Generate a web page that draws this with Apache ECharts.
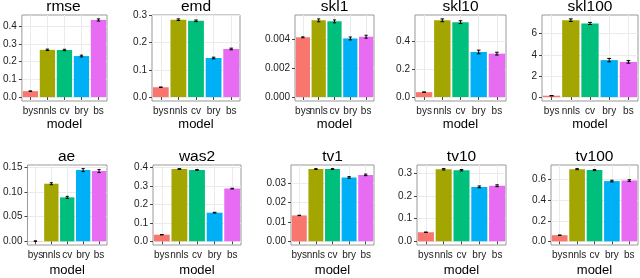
<!DOCTYPE html>
<html>
<head>
<meta charset="utf-8">
<script src="https://cdn.jsdelivr.net/npm/echarts@6/dist/echarts.min.js"></script>
<style>html,body{margin:0;padding:0;background:#fff}#c{width:640px;height:278px}</style>
</head>
<body>
<div id="c"></div>
<script>
// ---- data ----
const models = ['bys', 'nnls', 'cv', 'bry', 'bs'];
const colors = ['#F8766D', '#A3A500', '#00BF7D', '#00B0F6', '#E76BF3'];
const metrics = ['rmse', 'emd', 'skl1', 'skl10', 'skl100', 'ae', 'was2', 'tv1', 'tv10', 'tv100'];

const rmse = [0.0335, 0.266, 0.265, 0.231, 0.434];
const rmseErr = [0.001, 0.004, 0.004, 0.005, 0.006];
const emd = [0.036, 0.283, 0.279, 0.143, 0.176];
const emdErr = [0.001, 0.003, 0.003, 0.003, 0.003];
const skl1 = [0.00413, 0.00530, 0.00523, 0.00405, 0.00417];
const skl1Err = [0.00003, 0.0001, 0.0001, 0.0001, 0.0001];
const skl10 = [0.035, 0.546, 0.533, 0.321, 0.309];
const skl10Err = [0.002, 0.010, 0.010, 0.013, 0.010];
const skl100 = [0.13, 7.28, 6.97, 3.5, 3.33];
const skl100Err = [0.02, 0.12, 0.10, 0.16, 0.12];
const ae = [0.0005, 0.1165, 0.089, 0.144, 0.142];
const aeErr = [0.0005, 0.002, 0.002, 0.003, 0.003];
const was2 = [0.036, 0.391, 0.386, 0.155, 0.285];
const was2Err = [0.001, 0.002, 0.002, 0.002, 0.002];
const tv1 = [0.0133, 0.0371, 0.0371, 0.0328, 0.0341];
const tv1Err = [0.0001, 0.0002, 0.0002, 0.0004, 0.0004];
const tv10 = [0.040, 0.316, 0.312, 0.239, 0.244];
const tv10Err = [0.001, 0.003, 0.003, 0.004, 0.004];
const tv100 = [0.060, 0.702, 0.693, 0.586, 0.591];
const tv100Err = [0.002, 0.005, 0.005, 0.008, 0.008];

const rmseTicks = ['0.0', '0.1', '0.2', '0.3', '0.4'];
const emdTicks = ['0.0', '0.1', '0.2', '0.3'];
const skl1Ticks = ['0.000', '0.002', '0.004'];
const skl10Ticks = ['0.0', '0.2', '0.4'];
const skl100Ticks = ['0', '2', '4', '6'];
const aeTicks = ['0.00', '0.05', '0.10', '0.15'];
const was2Ticks = ['0.0', '0.1', '0.2', '0.3', '0.4'];
const tv1Ticks = ['0.00', '0.01', '0.02', '0.03'];
const tv10Ticks = ['0.0', '0.1', '0.2', '0.3'];
const tv100Ticks = ['0.0', '0.2', '0.4', '0.6'];

const values = [rmse, emd, skl1, skl10, skl100, ae, was2, tv1, tv10, tv100];
const errors = [rmseErr, emdErr, skl1Err, skl10Err, skl100Err, aeErr, was2Err, tv1Err, tv10Err, tv100Err];
const ticks = [rmseTicks, emdTicks, skl1Ticks, skl10Ticks, skl100Ticks, aeTicks, was2Ticks, tv1Ticks, tv10Ticks, tv100Ticks];

// ---- layout ----
const layout = [
  {left: 20, top: 15, width: 87, height: 86},
  {left: 152, top: 15, width: 88, height: 86},
  {left: 295, top: 15, width: 79, height: 86},
  {left: 415, top: 15, width: 91, height: 86},
  {left: 542, top: 15, width: 96, height: 86},
  {left: 26, top: 165, width: 81, height: 87},
  {left: 153, top: 165, width: 88, height: 87},
  {left: 291, top: 165, width: 83, height: 87},
  {left: 417, top: 165, width: 89, height: 87},
  {left: 551, top: 165, width: 87, height: 87}
];

const FONT = '"Liberation Sans", Arial, sans-serif';
const grid = [], xAxis = [], yAxis = [], series = [], title = [];

metrics.forEach((m, i) => {
  const L = layout[i];
  const vals = values[i], errs = errors[i];
  const dmax = Math.max(...vals.map((v, k) => v + errs[k]));
  const pad = dmax * 0.05;
  const tickVals = ticks[i].map(Number);
  const labelMap = {};
  ticks[i].forEach(t => { labelMap[Number(t)] = t; });

  grid.push({left: L.left, top: L.top, width: L.width, height: L.height,
    show: true, borderColor: '#999', borderWidth: 1, backgroundColor: '#fff', containLabel: false});
  title.push({text: m, left: L.left + L.width / 2, top: L.top - 16, textAlign: 'center', padding: 0,
    textStyle: {fontFamily: FONT, fontSize: 15.5, fontWeight: 'normal', color: '#000'}});

  xAxis.push({type: 'category', gridIndex: i, data: models,
    boundaryGap: true,
    name: 'model', nameLocation: 'middle', nameGap: i < 5 ? 17 : 19,
    nameTextStyle: {fontFamily: FONT, fontSize: 13, color: '#000'},
    axisLine: {show: false},
    axisTick: {show: true, alignWithLabel: true, length: 3, lineStyle: {color: '#444'}},
    axisLabel: {interval: 0, hideOverlap: false, margin: 5, fontFamily: FONT, fontSize: 10, color: '#222'},
    splitLine: {show: true, alignWithLabel: true, lineStyle: {color: '#ebebeb', width: 1}}
  });

  yAxis.push({type: 'value', gridIndex: i, min: -pad, max: dmax + pad,
    axisLine: {show: false},
    axisTick: {show: true, length: 3, lineStyle: {color: '#444'}, customValues: tickVals},
    axisLabel: {margin: 5, fontFamily: FONT, fontSize: 10, color: '#222', customValues: tickVals,
      formatter: v => labelMap[v] !== undefined ? labelMap[v] : String(v)},
    splitLine: {show: true, lineStyle: {color: '#ebebeb', width: 1}}
  });

  series.push({type: 'bar', xAxisIndex: i, yAxisIndex: i, barCategoryGap: '10%',
    data: vals.map((v, k) => ({value: v, itemStyle: {color: colors[k]}})),
    silent: true, animation: false});

  series.push({type: 'custom', xAxisIndex: i, yAxisIndex: i, z: 5, silent: true, animation: false,
    data: vals.map((v, k) => [k, v - errs[k], v + errs[k]]),
    renderItem: (params, api) => {
      const x = api.value(0);
      const lo = api.coord([x, api.value(1)]);
      const hi = api.coord([x, api.value(2)]);
      const hw = api.size([1, 0])[0] * 0.1;
      const st = {stroke: '#000', lineWidth: 1};
      return {type: 'group', children: [
        {type: 'line', shape: {x1: lo[0], y1: lo[1], x2: hi[0], y2: hi[1]}, style: st},
        {type: 'line', shape: {x1: lo[0] - hw, y1: lo[1], x2: lo[0] + hw, y2: lo[1]}, style: st},
        {type: 'line', shape: {x1: hi[0] - hw, y1: hi[1], x2: hi[0] + hw, y2: hi[1]}, style: st}
      ]};
    }
  });
});

const chart = echarts.init(document.getElementById('c'), null, {renderer: 'canvas'});
chart.setOption({animation: false, backgroundColor: '#fff', title, grid, xAxis, yAxis, series});
</script>
</body>
</html>
